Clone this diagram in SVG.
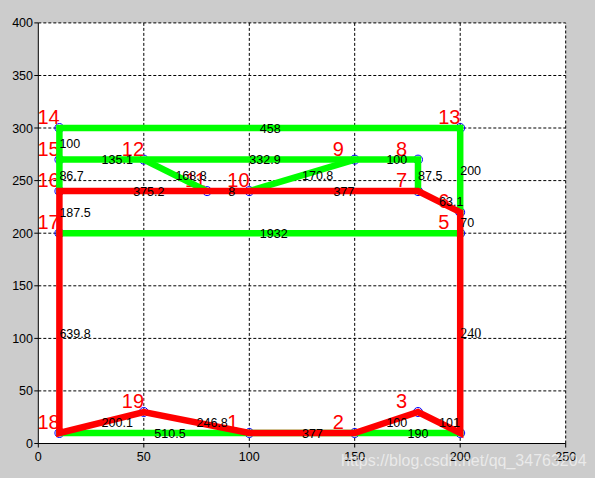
<svg xmlns="http://www.w3.org/2000/svg" width="595" height="478" viewBox="0 0 595 478">
<style>
.grid{stroke:#000;stroke-width:1;stroke-dasharray:3,2;fill:none}
.axis{stroke:#000;stroke-width:1;fill:none}
.tk{font-family:"Liberation Sans",Arial,sans-serif;font-size:12.5px;fill:#000}
.nd circle{fill:none;stroke:#0000ff;stroke-width:1}
.nd text{font-family:"Liberation Sans",Arial,sans-serif;font-size:20px;fill:#ff0000}
.g{stroke:#00ff00;stroke-width:6.5;fill:none;stroke-linejoin:miter;stroke-linecap:square}
.gd{stroke:#00ff00;stroke-width:6.5;fill:none;stroke-linecap:butt}
.r{stroke:#ff0000;stroke-width:6.5;fill:none;stroke-linejoin:miter;stroke-miterlimit:6}
.el{font-family:"Liberation Sans",Arial,sans-serif;font-size:12.5px;fill:#000}
</style>
<rect x="0" y="0" width="595" height="478" fill="#cccccc"/>
<rect x="38.3" y="22.9" width="527.4" height="420.6" fill="#ffffff"/>
<g id="grid">
<path class="grid" d="M38.3 22.9H565.7V443.5 M38.3 75.5H565.7 M38.3 128H565.7 M38.3 180.6H565.7 M38.3 233.2H565.7 M38.3 285.8H565.7 M38.3 338.4H565.7 M38.3 390.9H565.7 M143.8 22.9V443.5 M249.3 22.9V443.5 M354.7 22.9V443.5 M460.2 22.9V443.5"/>
<path class="axis" d="M38.3 22.9V443.5H565.7"/>
<path class="axis" d="M34.3 22.9H38.3 M34.3 75.5H38.3 M34.3 128H38.3 M34.3 180.6H38.3 M34.3 233.2H38.3 M34.3 285.8H38.3 M34.3 338.4H38.3 M34.3 390.9H38.3 M34.3 443.5H38.3 M38.3 443.5V447.5 M143.8 443.5V447.5 M249.3 443.5V447.5 M354.7 443.5V447.5 M460.2 443.5V447.5 M565.7 443.5V447.5"/>
</g>
<g id="ticklabels" class="tk" text-anchor="end">
<text x="33" y="27.4">400</text>
<text x="33" y="80">350</text>
<text x="33" y="132.5">300</text>
<text x="33" y="185.1">250</text>
<text x="33" y="237.7">200</text>
<text x="33" y="290.3">150</text>
<text x="33" y="342.9">100</text>
<text x="33" y="395.4">50</text>
<text x="33" y="448">0</text>
</g>
<g class="tk" text-anchor="middle">
<text x="38.3" y="460.5">0</text>
<text x="143.8" y="460.5">50</text>
<text x="249.3" y="460.5">100</text>
<text x="354.7" y="460.5">150</text>
<text x="460.2" y="460.5">200</text>
<text x="565.7" y="460.5">250</text>
</g>
<g id="node1" class="nd"><circle cx="249.3" cy="433" r="4.5"/><text x="227.3" y="429">1</text></g>
<g id="node2" class="nd"><circle cx="354.7" cy="433" r="4.5"/><text x="332.7" y="429">2</text></g>
<g id="node3" class="nd"><circle cx="418" cy="412" r="4.5"/><text x="396" y="408">3</text></g>
<g id="node4" class="nd"><circle cx="460.2" cy="433" r="4.5"/></g>
<g id="node5" class="nd"><circle cx="460.2" cy="233.2" r="4.5"/><text x="438.2" y="229.2">5</text></g>
<g id="node6" class="nd"><circle cx="460.2" cy="212.2" r="4.5"/><text x="438.2" y="208.2">6</text></g>
<g id="node7" class="nd"><circle cx="418" cy="191.1" r="4.5"/><text x="396" y="187.1">7</text></g>
<g id="node8" class="nd"><circle cx="418" cy="159.6" r="4.5"/><text x="396" y="155.6">8</text></g>
<g id="node9" class="nd"><circle cx="354.7" cy="159.6" r="4.5"/><text x="332.7" y="155.6">9</text></g>
<g id="node10" class="nd"><circle cx="249.3" cy="191.1" r="4.5"/><text x="227.3" y="187.1">10</text></g>
<g id="node11" class="nd"><circle cx="207.1" cy="191.1" r="4.5"/><text x="185.1" y="187.1">11</text></g>
<g id="node12" class="nd"><circle cx="143.8" cy="159.6" r="4.5"/><text x="121.8" y="155.6">12</text></g>
<g id="node13" class="nd"><circle cx="460.2" cy="128" r="4.5"/><text x="438.2" y="124">13</text></g>
<g id="node14" class="nd"><circle cx="59.4" cy="128" r="4.5"/><text x="37.4" y="124">14</text></g>
<g id="node15" class="nd"><circle cx="59.4" cy="159.6" r="4.5"/><text x="37.4" y="155.6">15</text></g>
<g id="node16" class="nd"><circle cx="59.4" cy="191.1" r="4.5"/><text x="37.4" y="187.1">16</text></g>
<g id="node17" class="nd"><circle cx="59.4" cy="233.2" r="4.5"/><text x="37.4" y="229.2">17</text></g>
<g id="node18" class="nd"><circle cx="59.4" cy="433" r="4.5"/><text x="37.4" y="429">18</text></g>
<g id="node19" class="nd"><circle cx="143.8" cy="412" r="4.5"/><text x="121.8" y="408">19</text></g>
<g id="connectors">
<path class="g" d="M460.2 212.2V128H59.4V191.1"/>
<path class="g" d="M59.4 159.6H418V191.1"/>
<path class="gd" d="M143.8 159.6L207.1 191.1"/>
<path class="gd" d="M249.3 191.1L354.7 159.6"/>
<path class="g" d="M59.4 233.2H460.2"/>
<path class="g" d="M59.4 433H460.2"/>
<path class="r" d="M59.4 191.1H418L460.2 212.2V433L418 412L354.7 433H249.3L143.8 412L59.4 433Z"/>
<g class="el">
<text x="259.8" y="132.5">458</text>
<text x="59.4" y="148.3">100</text>
<text x="101.6" y="164.1">135.1</text>
<text x="249.3" y="164.1">332.9</text>
<text x="386.4" y="164.1">100</text>
<text x="59.4" y="179.9">86.7</text>
<text x="175.4" y="179.9">168.8</text>
<text x="302" y="179.9">170.8</text>
<text x="418" y="179.9">87.5</text>
<text x="460.2" y="174.6">200</text>
<text x="133.2" y="195.6">375.2</text>
<text x="228.2" y="195.6">8</text>
<text x="333.6" y="195.6">377</text>
<text x="439.1" y="206.1">63.1</text>
<text x="59.4" y="216.7">187.5</text>
<text x="460.2" y="227.2">70</text>
<text x="259.8" y="237.7">1932</text>
<text x="59.4" y="337.6">639.8</text>
<text x="460.2" y="337.6" style="font-family:'Liberation Serif','Times New Roman',serif;font-size:14px">240</text>
<text x="101.6" y="427">200.1</text>
<text x="196.5" y="427">246.8</text>
<text x="154.3" y="437.5">510.5</text>
<text x="302" y="437.5">377</text>
<text x="386.4" y="427">100</text>
<text x="439.1" y="427">101</text>
<text x="407.5" y="437.5">190</text>
</g>
</g>
<text x="341" y="466" font-family="Liberation Sans,Arial,sans-serif" font-size="16" fill="#ffffff" fill-opacity="0.6">https://blog.csdn.net/qq_34763204</text>
</svg>
